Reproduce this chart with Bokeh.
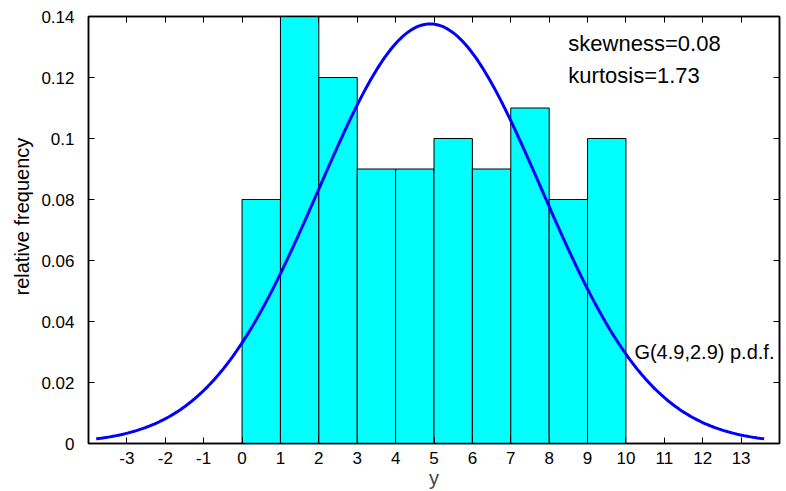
import numpy as np
from bokeh.plotting import figure
from bokeh.models import LinearAxis, FixedTicker, NumeralTickFormatter, Label, Title
from bokeh.embed import file_html
from bokeh.resources import INLINE

# histogram of y: unit-width bins from 0 to 10
bin_left = [0, 1, 2, 3, 4, 5, 6, 7, 8, 9]
bin_right = [1, 2, 3, 4, 5, 6, 7, 8, 9, 10]
rel_freq = [0.08, 0.14, 0.12, 0.09, 0.09, 0.10, 0.09, 0.11, 0.08, 0.10]

# fitted Gaussian G(mu, sigma)
mu = 4.9
sigma = 2.9
skewness = 0.08
kurtosis = 1.73

x_ticks = [-3, -2, -1, 0, 1, 2, 3, 4, 5, 6, 7, 8, 9, 10, 11, 12, 13]
x_tick_labels = ["-3", "-2", "-1", "0", "1", "2", "3", "4", "5", "6", "7",
                 "8", "9", "10", "11", "12", "13"]
y_ticks = [0, 0.02, 0.04, 0.06, 0.08, 0.1, 0.12, 0.14]

FONT = "Liberation Sans"

p = figure(width=786, height=491, output_backend="svg", toolbar_location=None,
           x_range=(-4, 14), y_range=(0, 0.14),
           min_border_left=88, min_border_right=7, min_border_top=16, min_border_bottom=46)
p.grid.visible = False
p.outline_line_color = "black"
p.outline_line_width = 1.5
p.background_fill_color = "white"
p.border_fill_color = "white"

# bars
p.quad(left=bin_left, right=bin_right, bottom=0, top=rel_freq,
       fill_color="#00ffff", line_color="black", line_width=1)

# Gaussian p.d.f. over mu +/- 3 sigma
xs = np.linspace(mu - 3 * sigma, mu + 3 * sigma, 300)
pdf = np.exp(-0.5 * ((xs - mu) / sigma) ** 2) / (sigma * np.sqrt(2 * np.pi))
p.line(xs, pdf, line_color="#0000ff", line_width=3)


def style_axis(ax, ticks, show_labels):
    ax.ticker = FixedTicker(ticks=ticks)
    ax.major_tick_in = 6
    ax.major_tick_out = 0
    ax.minor_tick_in = 0
    ax.minor_tick_out = 0
    ax.axis_line_color = "black"
    ax.axis_line_width = 1.5
    ax.major_tick_line_color = "black"
    ax.major_tick_line_width = 1
    ax.major_label_text_font = FONT
    ax.major_label_text_color = "black"
    if not show_labels:
        # mirror axis: ticks only
        ax.major_label_text_color = None
        ax.major_label_text_font_size = "1px"
        ax.major_label_standoff = 0


style_axis(p.xaxis[0], x_ticks, True)
p.xaxis[0].major_label_overrides = dict(zip(x_ticks, x_tick_labels))
p.xaxis[0].major_label_text_font_size = "17px"
p.xaxis[0].major_label_standoff = 8
p.xaxis[0].axis_label = "y"
p.xaxis[0].axis_label_text_font = FONT
p.xaxis[0].axis_label_text_font_style = "normal"
p.xaxis[0].axis_label_text_font_size = "20px"
p.xaxis[0].axis_label_standoff = 0

style_axis(p.yaxis[0], y_ticks, True)
p.yaxis[0].major_label_text_font_size = "17px"
p.yaxis[0].major_label_standoff = 14
p.yaxis[0].formatter = NumeralTickFormatter(format="0.[00]")

top_ax = LinearAxis()
style_axis(top_ax, x_ticks, False)
p.add_layout(top_ax, "above")
right_ax = LinearAxis()
style_axis(right_ax, y_ticks, False)
p.add_layout(right_ax, "right")

# y-axis title, starting a bit above the bottom of the frame
p.add_layout(Title(text="relative frequency", align="left", offset=148,
                   text_font=FONT, text_font_size="20px", text_font_style="normal",
                   text_color="black", standoff=12), "left")

# statistics
p.add_layout(Label(x=8.5, y=0.131, text=f"skewness={skewness}",
                   text_align="left", text_baseline="middle",
                   text_font=FONT, text_font_size="22px", text_color="black"))
p.add_layout(Label(x=8.5, y=0.1207, text=f"kurtosis={kurtosis}",
                   text_align="left", text_baseline="middle",
                   text_font=FONT, text_font_size="22px", text_color="black"))

# curve label
p.add_layout(Label(x=10.22, y=0.030, text=f"G({mu},{sigma}) p.d.f.",
                   text_align="left", text_baseline="middle",
                   text_font=FONT, text_font_size="20px", text_color="black"))

open("out.html", "w").write(file_html(p, INLINE))
